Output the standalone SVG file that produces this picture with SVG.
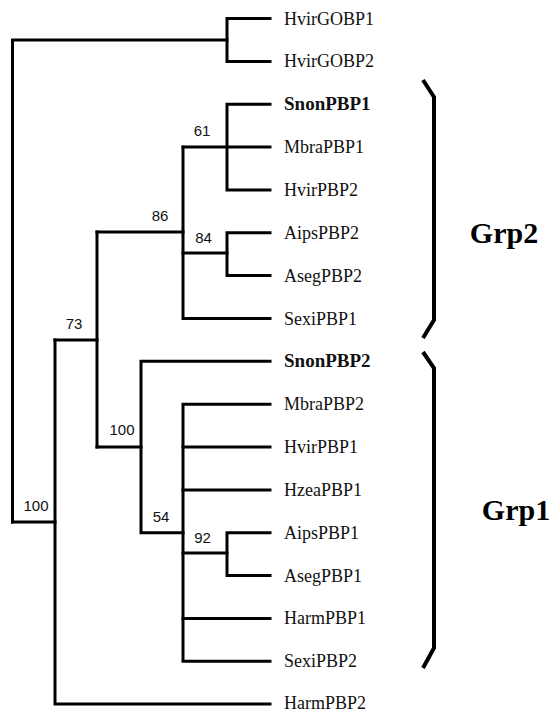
<svg xmlns="http://www.w3.org/2000/svg" width="556" height="711" viewBox="0 0 556 711">
<style>
.e{fill:none;stroke:#000;stroke-width:3;stroke-linecap:square;stroke-linejoin:miter}
.br{fill:none;stroke:#000;stroke-width:4;stroke-linejoin:miter}
.lf{font-family:"Liberation Serif","Times New Roman",serif;font-size:18px;fill:#111}
.b{font-weight:bold;font-size:19px}
.bs{font-family:"Liberation Sans",Arial,sans-serif;font-size:15px;fill:#111;text-anchor:middle}
.grp{font-family:"Liberation Serif","Times New Roman",serif;font-size:30px;font-weight:bold;fill:#000;text-anchor:middle}
</style>
<rect width="556" height="711" fill="#fff"/>
<g id="connectors">
<path class="e" d="M12.5,522 V40 H227"/>
<path class="e" d="M270,18.5 H227 V61.4 H270"/>
<path class="e" d="M12.5,522 H55"/>
<path class="e" d="M55,340 V704.1 H270"/>
<path class="e" d="M55,340 H97"/>
<path class="e" d="M97,232 V447"/>
<path class="e" d="M97,232 H183"/>
<path class="e" d="M183,147.1 V318.5 H270"/>
<path class="e" d="M183,147.1 H270"/>
<path class="e" d="M270,104.2 H227 V189.9 H270"/>
<path class="e" d="M183,253 H227"/>
<path class="e" d="M270,232.8 H227 V275.6 H270"/>
<path class="e" d="M97,447 H141"/>
<path class="e" d="M270,361.3 H141 V532.7 H183"/>
<path class="e" d="M270,404.2 H183 V661.3 H270"/>
<path class="e" d="M183,447 H270"/>
<path class="e" d="M183,489.9 H270"/>
<path class="e" d="M183,618.4 H270"/>
<path class="e" d="M183,553 H227"/>
<path class="e" d="M270,532.7 H227 V575.6 H270"/>
</g>
<g id="support">
<text class="bs" x="202" y="136">61</text>
<text class="bs" x="160" y="221">86</text>
<text class="bs" x="203.5" y="243">84</text>
<text class="bs" x="74" y="329">73</text>
<text class="bs" x="122" y="435">100</text>
<text class="bs" x="36" y="511">100</text>
<text class="bs" x="161" y="522">54</text>
<text class="bs" x="202.5" y="542.5">92</text>
</g>
<g id="leaves">
<g id="HvirGOBP1"><text class="lf" x="284" y="24.5">HvirGOBP1</text></g>
<g id="HvirGOBP2"><text class="lf" x="284" y="67.4">HvirGOBP2</text></g>
<g id="SnonPBP1"><text class="lf b" x="284" y="110.2">SnonPBP1</text></g>
<g id="MbraPBP1"><text class="lf" x="284" y="153.1">MbraPBP1</text></g>
<g id="HvirPBP2"><text class="lf" x="284" y="195.9">HvirPBP2</text></g>
<g id="AipsPBP2"><text class="lf" x="284" y="238.8">AipsPBP2</text></g>
<g id="AsegPBP2"><text class="lf" x="284" y="281.6">AsegPBP2</text></g>
<g id="SexiPBP1"><text class="lf" x="284" y="324.5">SexiPBP1</text></g>
<g id="SnonPBP2"><text class="lf b" x="284" y="367.3">SnonPBP2</text></g>
<g id="MbraPBP2"><text class="lf" x="284" y="410.2">MbraPBP2</text></g>
<g id="HvirPBP1"><text class="lf" x="284" y="453">HvirPBP1</text></g>
<g id="HzeaPBP1"><text class="lf" x="284" y="495.9">HzeaPBP1</text></g>
<g id="AipsPBP1"><text class="lf" x="284" y="538.7">AipsPBP1</text></g>
<g id="AsegPBP1"><text class="lf" x="284" y="581.6">AsegPBP1</text></g>
<g id="HarmPBP1"><text class="lf" x="284" y="624.4">HarmPBP1</text></g>
<g id="SexiPBP2"><text class="lf" x="284" y="667.3">SexiPBP2</text></g>
<g id="HarmPBP2"><text class="lf" x="284" y="708.5">HarmPBP2</text></g>
</g>
<g id="Grp2">
<polyline class="br" points="423,80 434,97 434,320 423,338"/>
<text class="grp" x="504" y="243">Grp2</text>
</g>
<g id="Grp1">
<polyline class="br" points="423,352 434,368 434,648 423,668"/>
<text class="grp" x="516" y="520">Grp1</text>
</g>
</svg>
